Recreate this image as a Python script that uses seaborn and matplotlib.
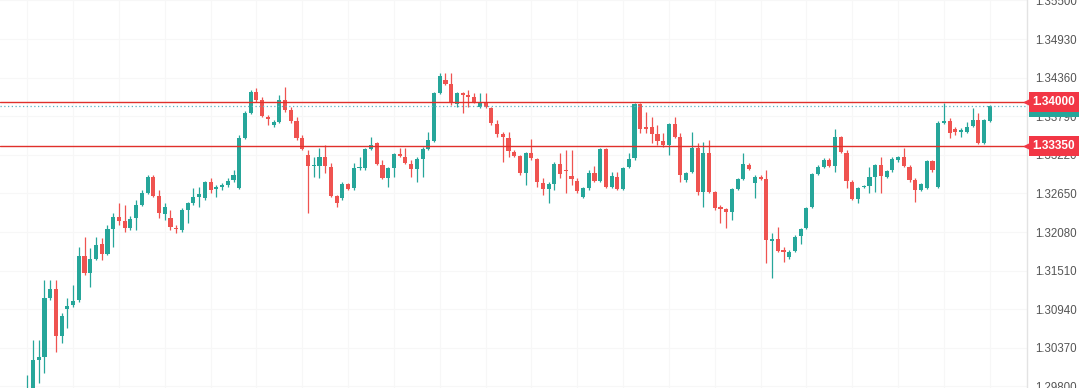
import numpy as np
import pandas as pd
import matplotlib
matplotlib.use("Agg")
import matplotlib.pyplot as plt
import matplotlib.transforms as mtransforms
import seaborn as sns

# ---------------- data ----------------
opens = [1.2963, 1.2972, 1.3019, 1.3023, 1.3111, 1.3124, 1.3054, 1.3094, 1.3100, 1.3108,
         1.3173, 1.3148, 1.3168, 1.3190, 1.3176, 1.3212, 1.3230, 1.3224, 1.3214, 1.3229,
         1.3248, 1.3266, 1.3289, 1.3261, 1.3235, 1.3229, 1.3214, 1.3211, 1.3241, 1.3251,
         1.3260, 1.3258, 1.3282, 1.3272, 1.3275, 1.3278, 1.3285, 1.3273, 1.3347, 1.3384,
         1.3415, 1.3403, 1.3378, 1.3366, 1.3371, 1.3403, 1.3388, 1.3372, 1.3347, 1.3322,
         1.3306, 1.3306, 1.3319, 1.3304, 1.3261, 1.3258, 1.3279, 1.3273, 1.3303, 1.3303,
         1.3331, 1.3340, 1.3307, 1.3288, 1.3303, 1.3323, 1.3319, 1.3308, 1.3301, 1.3316,
         1.3331, 1.3342, 1.3413, 1.3432, 1.3427, 1.3397, 1.3413, 1.3410, 1.3407, 1.3393,
         1.3400, 1.3391, 1.3368, 1.3353, 1.3347, 1.3326, 1.3320, 1.3295, 1.3325, 1.3316,
         1.3280, 1.3272, 1.3279, 1.3308, 1.3300, 1.3291, 1.3283, 1.3260, 1.3273, 1.3295,
         1.3283, 1.3331, 1.3275, 1.3289, 1.3272, 1.3304, 1.3317, 1.3397, 1.3363, 1.3363,
         1.3353, 1.3342, 1.3337, 1.3368, 1.3348, 1.3285, 1.3297, 1.3332, 1.3267, 1.3325,
         1.3267, 1.3245, 1.3242, 1.3238, 1.3272, 1.3286, 1.3307, 1.3280, 1.3289, 1.3286,
         1.3195, 1.3198, 1.3182, 1.3171, 1.3180, 1.3202, 1.3214, 1.3245, 1.3294, 1.3304,
         1.3314, 1.3306, 1.3348, 1.3325, 1.3282, 1.3257, 1.3275, 1.3276, 1.3289, 1.3307,
         1.3289, 1.3300, 1.3314, 1.3319, 1.3304, 1.3285, 1.3270, 1.3273, 1.3313, 1.3275,
         1.3369, 1.3372, 1.3360, 1.3356, 1.3356, 1.3365, 1.3374, 1.3340, 1.3372]

closes = [1.2975, 1.3019, 1.3023, 1.3111, 1.3124, 1.3054, 1.3084, 1.3099, 1.3106, 1.3173,
          1.3148, 1.3168, 1.3189, 1.3176, 1.3212, 1.3230, 1.3224, 1.3214, 1.3227, 1.3248,
          1.3266, 1.3289, 1.3261, 1.3236, 1.3245, 1.3216, 1.3212, 1.3241, 1.3251, 1.3260,
          1.3264, 1.3282, 1.3270, 1.3275, 1.3278, 1.3283, 1.3292, 1.3347, 1.3384, 1.3415,
          1.3403, 1.3379, 1.3375, 1.3371, 1.3403, 1.3388, 1.3372, 1.3347, 1.3331, 1.3306,
          1.3307, 1.3319, 1.3306, 1.3261, 1.3251, 1.3279, 1.3272, 1.3303, 1.3304, 1.3331,
          1.3337, 1.3308, 1.3288, 1.3303, 1.3323, 1.3320, 1.3310, 1.3301, 1.3316, 1.3331,
          1.3344, 1.3413, 1.3438, 1.3427, 1.3399, 1.3413, 1.3410, 1.3407, 1.3400, 1.3400,
          1.3393, 1.3369, 1.3353, 1.3348, 1.3328, 1.3320, 1.3295, 1.3325, 1.3317, 1.3282,
          1.3272, 1.3279, 1.3308, 1.3294, 1.3298, 1.3286, 1.3269, 1.3273, 1.3295, 1.3283,
          1.3331, 1.3275, 1.3291, 1.3272, 1.3303, 1.3316, 1.3397, 1.3360, 1.3360, 1.3353,
          1.3342, 1.3337, 1.3368, 1.3348, 1.3292, 1.3295, 1.3332, 1.3267, 1.3325, 1.3267,
          1.3244, 1.3242, 1.3238, 1.3272, 1.3286, 1.3308, 1.3301, 1.3289, 1.3286, 1.3196,
          1.3198, 1.3180, 1.3179, 1.3179, 1.3201, 1.3212, 1.3244, 1.3294, 1.3304, 1.3314,
          1.3306, 1.3348, 1.3326, 1.3283, 1.3257, 1.3273, 1.3276, 1.3289, 1.3307, 1.3291,
          1.3298, 1.3316, 1.3319, 1.3306, 1.3285, 1.3270, 1.3279, 1.3313, 1.3300, 1.3369,
          1.3372, 1.3354, 1.3356, 1.3359, 1.3363, 1.3374, 1.3340, 1.3374, 1.3394]

highs = [1.2997, 1.3049, 1.3049, 1.3137, 1.3137, 1.3137, 1.3088, 1.3111, 1.3130, 1.3186,
         1.3201, 1.3184, 1.3201, 1.3199, 1.3218, 1.3236, 1.3251, 1.3248, 1.3232, 1.3255,
         1.3270, 1.3292, 1.3292, 1.3270, 1.3251, 1.3241, 1.3218, 1.3244, 1.3252, 1.3273,
         1.3275, 1.3283, 1.3288, 1.3278, 1.3280, 1.3288, 1.3300, 1.3351, 1.3387, 1.3418,
         1.3421, 1.3407, 1.3381, 1.3373, 1.3410, 1.3422, 1.3393, 1.3378, 1.3351, 1.3329,
         1.3319, 1.3332, 1.3337, 1.3310, 1.3263, 1.3282, 1.3280, 1.3310, 1.3319, 1.3332,
         1.3348, 1.3341, 1.3314, 1.3304, 1.3325, 1.3332, 1.3332, 1.3314, 1.3319, 1.3334,
         1.3356, 1.3415, 1.3443, 1.3443, 1.3443, 1.3415, 1.3415, 1.3418, 1.3413, 1.3413,
         1.3413, 1.3393, 1.3373, 1.3356, 1.3356, 1.3329, 1.3322, 1.3326, 1.3345, 1.3317,
         1.3288, 1.3282, 1.3311, 1.3325, 1.3329, 1.3329, 1.3288, 1.3275, 1.3300, 1.3306,
         1.3332, 1.3332, 1.3297, 1.3297, 1.3304, 1.3325, 1.3399, 1.3399, 1.3385, 1.3378,
         1.3366, 1.3354, 1.3369, 1.3378, 1.3354, 1.3297, 1.3356, 1.3340, 1.3341, 1.3344,
         1.3269, 1.3248, 1.3244, 1.3273, 1.3288, 1.3325, 1.3310, 1.3292, 1.3292, 1.3300,
         1.3207, 1.3216, 1.3186, 1.3182, 1.3204, 1.3214, 1.3245, 1.3295, 1.3307, 1.3317,
         1.3317, 1.3360, 1.3350, 1.3329, 1.3285, 1.3275, 1.3278, 1.3304, 1.3308, 1.3319,
         1.3300, 1.3319, 1.3320, 1.3332, 1.3307, 1.3288, 1.3280, 1.3314, 1.3314, 1.3372,
         1.3399, 1.3376, 1.3363, 1.3362, 1.3371, 1.3391, 1.3384, 1.3375, 1.3396]

lows = [1.2960, 1.2967, 1.2985, 1.3000, 1.3108, 1.3031, 1.3044, 1.3066, 1.3097, 1.3105,
        1.3145, 1.3127, 1.3167, 1.3167, 1.3174, 1.3186, 1.3218, 1.3208, 1.3211, 1.3211,
        1.3246, 1.3264, 1.3260, 1.3229, 1.3226, 1.3211, 1.3207, 1.3208, 1.3221, 1.3248,
        1.3245, 1.3255, 1.3266, 1.3260, 1.3270, 1.3275, 1.3282, 1.3272, 1.3345, 1.3382,
        1.3400, 1.3378, 1.3366, 1.3363, 1.3369, 1.3385, 1.3369, 1.3344, 1.3329, 1.3236,
        1.3289, 1.3288, 1.3295, 1.3260, 1.3245, 1.3255, 1.3270, 1.3270, 1.3300, 1.3300,
        1.3329, 1.3307, 1.3286, 1.3275, 1.3289, 1.3319, 1.3308, 1.3289, 1.3282, 1.3289,
        1.3329, 1.3341, 1.3412, 1.3425, 1.3396, 1.3393, 1.3384, 1.3393, 1.3399, 1.3391,
        1.3391, 1.3366, 1.3348, 1.3311, 1.3319, 1.3319, 1.3292, 1.3278, 1.3314, 1.3275,
        1.3263, 1.3251, 1.3270, 1.3288, 1.3266, 1.3278, 1.3266, 1.3258, 1.3270, 1.3282,
        1.3282, 1.3273, 1.3273, 1.3270, 1.3270, 1.3303, 1.3314, 1.3354, 1.3354, 1.3340,
        1.3337, 1.3334, 1.3322, 1.3347, 1.3282, 1.3282, 1.3295, 1.3263, 1.3245, 1.3266,
        1.3241, 1.3221, 1.3214, 1.3226, 1.3270, 1.3285, 1.3300, 1.3258, 1.3285, 1.3162,
        1.3140, 1.3179, 1.3164, 1.3168, 1.3179, 1.3190, 1.3212, 1.3244, 1.3292, 1.3303,
        1.3304, 1.3297, 1.3325, 1.3273, 1.3255, 1.3251, 1.3273, 1.3266, 1.3267, 1.3266,
        1.3288, 1.3297, 1.3311, 1.3304, 1.3282, 1.3252, 1.3269, 1.3272, 1.3297, 1.3273,
        1.3368, 1.3347, 1.3351, 1.3348, 1.3354, 1.3363, 1.3338, 1.3338, 1.3371]

y_ticks = [1.29800, 1.30370, 1.30940, 1.31510, 1.32080, 1.32650,
           1.33220, 1.33790, 1.34360, 1.34930, 1.35500]
resistance = 1.34000
support = 1.33350
last_price_text = "1.33940"

# ---------------- styling ----------------
sns.set_theme(style="white")
plt.rcParams['font.family'] = ['Liberation Sans', 'DejaVu Sans']

GREEN = '#26a69a'
RED = '#ef5350'
LINE_RED = '#e0302b'
LABEL_RED = '#f23645'

df = pd.DataFrame({'open': opens, 'high': highs, 'low': lows, 'close': closes})
df['idx'] = np.arange(len(df))
up = df['close'] >= df['open']
colors = np.where(up, GREEN, RED)

fig = plt.figure(figsize=(10.8, 3.88), dpi=100)
ax = fig.add_axes([0, 0, 1027 / 1080, 1])
ax.set_facecolor('white')

n = len(df)
ax.set_xlim(-4.76, 174.5)
ax.set_ylim(1.29776, 1.35507)

# very faint grid
for t in y_ticks:
    ax.axhline(t, color='#f7f7f7', lw=0.8, zorder=0)
for i in range(0, n, 8):
    ax.axvline(i, color='#f7f7f7', lw=0.8, zorder=0)

# wicks + bodies
ax.vlines(df['idx'], df['low'], df['high'], colors=colors, lw=0.9, zorder=2)
body_bottom = np.minimum(df['open'], df['close'])
body_h = np.maximum((df['close'] - df['open']).abs(), 0.00008)
ax.bar(df['idx'], body_h, bottom=body_bottom, width=0.72, color=colors,
       linewidth=0, zorder=3)

# horizontal levels
ax.axhline(resistance, color=LINE_RED, lw=1.0, zorder=4)
ax.axhline(support, color=LINE_RED, lw=1.0, zorder=4)
ax.axhline(closes[-1], color='#5fb3c4', lw=0.9, ls=(0, (1, 2)), zorder=4)

# y axis on the right
ax.yaxis.tick_right()
ax.set_yticks(y_ticks)
ax.set_yticklabels([f"{t:.5f}" for t in y_ticks])
ax.tick_params(axis='y', length=0, pad=6, labelsize=8.3, labelcolor='#555555')
ax.set_xticks([])
sns.despine(ax=ax, left=True, top=True, bottom=True, right=False)
ax.spines['right'].set_color('#e3e3e3')
ax.spines['right'].set_linewidth(1.0)

# price labels
trans = mtransforms.blended_transform_factory(fig.transFigure, ax.transData)
xc = 1054 / 1080
ax.text(xc, closes[-1] - 0.00012, last_price_text, transform=trans, ha='center', va='center',
        fontsize=8.5, color='white', zorder=10, clip_on=False,
        bbox=dict(boxstyle='square,pad=0.32', fc=GREEN, ec='none'))
for lvl in (resistance, support):
    ax.text(xc, lvl, f"{lvl:.5f}", transform=trans, ha='center', va='center',
            fontsize=8.5, color='white', fontweight='bold', zorder=11, clip_on=False,
            bbox=dict(boxstyle='square,pad=0.32', fc=LABEL_RED, ec='none'))
    ax.plot([1.0], [lvl], marker='<', ms=4, color=LABEL_RED,
            transform=mtransforms.blended_transform_factory(ax.transAxes, ax.transData),
            clip_on=False, zorder=11)

fig.savefig('out.png', dpi=100, facecolor='white')
